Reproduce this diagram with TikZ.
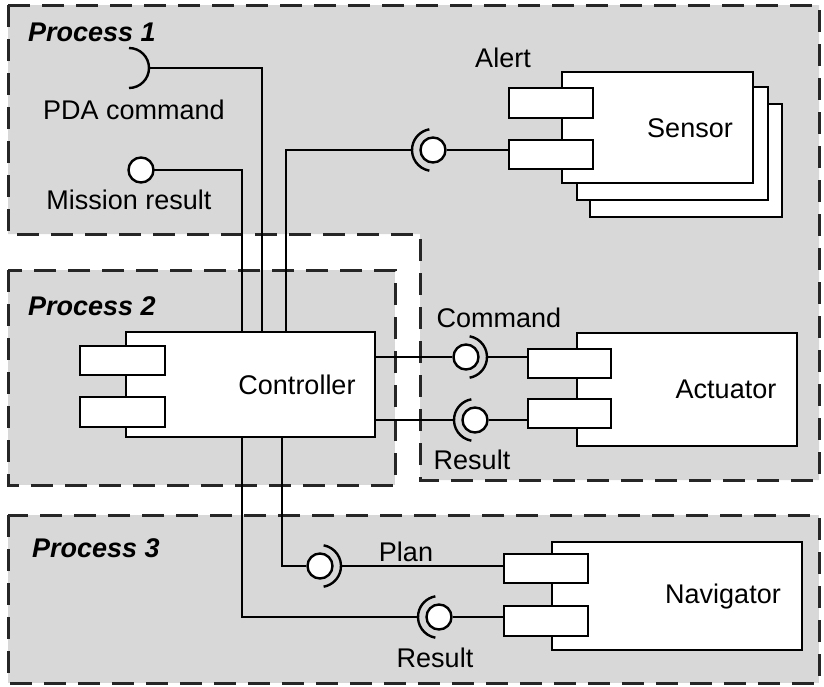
\documentclass[tikz,border=0pt]{standalone}
\usepackage{fontspec}
\setmainfont{Liberation Sans}
\usetikzlibrary{calc}
\definecolor{procgray}{RGB}{216,216,216}
\begin{document}
\begin{tikzpicture}[x=1pt,y=-1pt,
  region/.style={fill=procgray, draw=none},
  border/.style={draw=black!85, line width=3pt, dash pattern=on 22pt off 12pt},
  box/.style 2 args={draw=black, line width=2.4pt, fill=white, rectangle, inner sep=0pt, minimum width=#1, minimum height=#2},
  ball/.style={circle, draw=black, line width=2.4pt, fill=white, minimum size=25pt, inner sep=0pt},
  wire/.style={draw=black, line width=2.4pt},
  lbl/.style={inner sep=0pt, font=\fontsize{27}{30}\selectfont},
  plbl/.style={inner sep=0pt, anchor=west, font=\fontsize{27}{30}\selectfont\bfseries\itshape}
]
\useasboundingbox (0,0) rectangle (824,686);

% process regions
\fill[region] (8,5) -- (819,5) -- (819,480) -- (420,480) -- (420,234) -- (8,234) -- cycle;
\fill[region] (8,270) rectangle (395,485);
\fill[region] (8,515) rectangle (819,683);
\draw[border] (8,5) -- (819,5) -- (819,480) -- (420,480) -- (420,234) -- (8,234) -- cycle;
\draw[border] (8,270) rectangle (395,485);
\draw[border] (8,515) rectangle (819,683);

\node[plbl] (p1) at (28,32) {Process 1};
\node[plbl] (p2) at (28,306) {Process 2};
\node[plbl] (p3) at (32,548) {Process 3};

% Controller
\node[box={249pt}{105pt}] (ctrl) at (250.5,384.5) {};
\node[box={85pt}{29pt}] (cp1) at (122.5,360.5) {};
\node[box={85pt}{30pt}] (cp2) at (122.5,412) {};
\node[lbl] (ctrlL) at (297,385) {Controller};

% Sensor (stacked)
\node[box={192pt}{113pt}] (s3) at (686,160.5) {};
\node[box={191pt}{113pt}] (s2) at (672.5,143.5) {};
\node[box={191pt}{111pt}] (sensor) at (657.5,127.5) {};
\node[box={84pt}{30pt}] (sp1) at (551,103) {};
\node[box={84pt}{29pt}] (sp2) at (551,154.5) {};
\node[lbl] (sensorL) at (690,128) {Sensor};

% Actuator
\node[box={220pt}{113pt}] (act) at (687,389.5) {};
\node[box={83pt}{29pt}] (ap1) at (569.5,363.5) {};
\node[box={83pt}{29pt}] (ap2) at (569.5,413.5) {};
\node[lbl] (actL) at (726,389) {Actuator};

% Navigator
\node[box={250pt}{108pt}] (nav) at (677,596) {};
\node[box={84pt}{29pt}] (np1) at (546,568.5) {};
\node[box={84pt}{30pt}] (np2) at (546,621) {};
\node[lbl] (navL) at (723,597) {Navigator};

% PDA command (socket only)
\coordinate (pda) at (129,68);
\draw[wire] ($(pda)+(-90:20)$) arc[start angle=-90, end angle=90, radius=20];
\coordinate (pdaS) at ($(pda)+(20,0)$);
\draw[wire] (pdaS) -| ($(ctrl.north west)+(137,0)$);
\node[lbl] (pdaL) at (134,110) {PDA command};

% Mission result (ball only)
\draw[wire] (141,170) -| ($(ctrl.north west)+(117,0)$);
\node[ball] (mb) at (141,170) {};
\node[lbl] (mbL) at (129,200) {Mission result};

% Alert
\node[ball] (ab) at (433,150) {};
\draw[wire] ($(ab)+(100:21)$) arc[start angle=100, end angle=260, radius=21];
\coordinate (abS) at ($(ab)+(-21,0)$);
\draw[wire] (abS) -| ($(ctrl.north west)+(161,0)$);
\draw[wire] (ab.east) -- (ab.east -| sp2.west);
\node[lbl] (abL) at (503,58) {Alert};

% Command
\node[ball] (cb) at (466,357) {};
\draw[wire] ($(cb)+(-80:21)$) arc[start angle=-80, end angle=80, radius=21];
\coordinate (cbS) at ($(cb)+(21,0)$);
\draw[wire] (cb.west -| ctrl.east) -- (cb.west);
\draw[wire] (cbS) -- (cbS -| ap1.west);
\node[lbl] (cbL) at (499,318) {Command};

% Actuator result
\node[ball] (arb) at (475,420) {};
\draw[wire] ($(arb)+(100:21)$) arc[start angle=100, end angle=260, radius=21];
\coordinate (arS) at ($(arb)+(-21,0)$);
\draw[wire] (arS -| ctrl.east) -- (arS);
\draw[wire] (arb.east) -- (arb.east -| ap2.west);
\node[lbl] (arL) at (472,460) {Result};

% Plan
\node[ball] (pb) at (320,566) {};
\draw[wire] ($(pb)+(-80:21)$) arc[start angle=-80, end angle=80, radius=21];
\coordinate (pbS) at ($(pb)+(21,0)$);
\draw[wire] (pb.west) -| ($(ctrl.south west)+(157,0)$);
\draw[wire] (pbS) -- (pbS -| np1.west);
\node[lbl] (pbL) at (406,552) {Plan};

% Navigator result
\node[ball] (nrb) at (439,617) {};
\draw[wire] ($(nrb)+(100:21)$) arc[start angle=100, end angle=260, radius=21];
\coordinate (nrS) at ($(nrb)+(-21,0)$);
\draw[wire] (nrS) -| ($(ctrl.south west)+(117,0)$);
\draw[wire] (nrb.east) -- (nrb.east -| np2.west);
\node[lbl] (nrL) at (435,658) {Result};
\end{tikzpicture}
\end{document}
